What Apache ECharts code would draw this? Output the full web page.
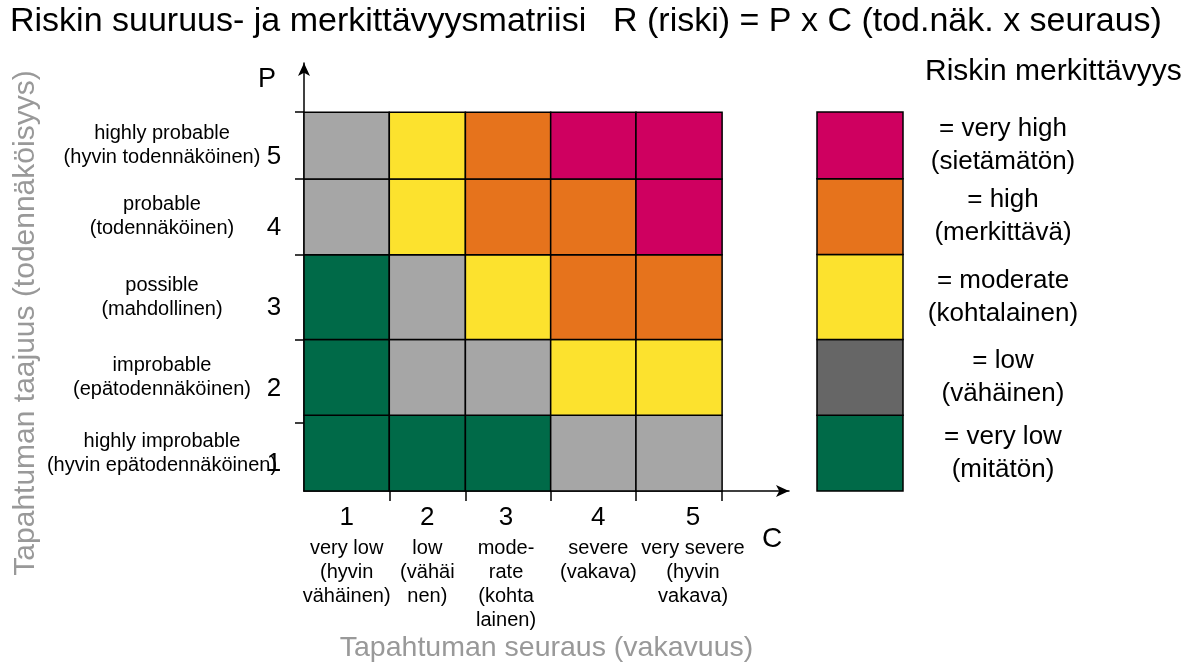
<!DOCTYPE html>
<html>
<head>
<meta charset="utf-8">
<title>Riskimatriisi</title>
<script src="https://cdn.jsdelivr.net/npm/echarts@6/dist/echarts.min.js"></script>
<style>
  html, body { margin: 0; padding: 0; background: #fff; }
  #chart { width: 1195px; height: 668px; }
</style>
</head>
<body>
<div id="chart"></div>
<script>
// solujen rajat (seuraus C ja todennäköisyys P), luettu kuvasta
const colEdges = [0, 1.02, 1.93, 2.95, 3.97, 5];
const rowEdges = [0, 1, 2, 3.12, 4.12, 5];
const yTickVals = [0.9, 2, 3.12, 4.12, 5];

const consequence = ['1', '2', '3', '4', '5'];
const consequenceDesc = [
  'very low\n(hyvin\nvähäinen)',
  'low\n(vähäi\nnen)',
  'mode-\nrate\n(kohta\nlainen)',
  'severe\n(vakava)',
  'very severe\n(hyvin\nvakava)'
];
const probability = ['1', '2', '3', '4', '5'];
const probabilityDesc = [
  'highly improbable\n(hyvin epätodennäköinen)',
  'improbable\n(epätodennäköinen)',
  'possible\n(mahdollinen)',
  'probable\n(todennäköinen)',
  'highly probable\n(hyvin todennäköinen)'
];

// riskitaso soluittain, rivi = P 1..5, sarake = C 1..5
// 0 = very low, 1 = low, 2 = moderate, 3 = high, 4 = very high
const riskLevels = [
  [0, 0, 0, 1, 1],
  [0, 1, 1, 2, 2],
  [0, 1, 2, 3, 3],
  [1, 2, 3, 3, 4],
  [1, 2, 3, 4, 4]
];
const levelNames = [
  '= very low\n(mitätön)',
  '= low\n(vähäinen)',
  '= moderate\n(kohtalainen)',
  '= high\n(merkittävä)',
  '= very high\n(sietämätön)'
];
const matrixColors = ['#006A48', '#A6A6A6', '#FCE22E', '#E6731C', '#CF0060'];
const legendColors = ['#006A48', '#666666', '#FCE22E', '#E6731C', '#CF0060'];

const colCenters = colEdges.slice(0, 5).map((v, i) => (v + colEdges[i + 1]) / 2);
const rowCenters = rowEdges.slice(0, 5).map((v, i) => (v + rowEdges[i + 1]) / 2);
const idxOf = (arr, v) => arr.findIndex(a => Math.abs(a - v) < 1e-6);

const FONT = 'Liberation Sans, Arial, sans-serif';

let cells = [];
riskLevels.forEach((row, r) => row.forEach((lvl, c) => cells.push([c, r, lvl])));
const legendCells = levelNames.map((n, i) => [0, i, i]);
const colLabels = consequence.map((c, i) => [colCenters[i], 0, i]);

function rectItem(xEdges, yEdges, colors) {
  return function (params, api) {
    const c = api.value(0), r = api.value(1), lvl = api.value(2);
    const p0 = api.coord([xEdges[c], yEdges[r]]);
    const p1 = api.coord([xEdges[c + 1], yEdges[r + 1]]);
    return {
      type: 'rect',
      shape: { x: p0[0], y: p1[1], width: p1[0] - p0[0], height: p0[1] - p1[1] },
      style: { fill: colors[lvl], stroke: '#000', lineWidth: 1.5 }
    };
  };
}

// x-akselin tekstit (numero + kuvaus) sarakkeen alle
// viimeisiä hieman oikealle ettei "severe" ja "very severe" osu yhteen
function colLabelItem(params, api) {
  const i = api.value(2);
  const nudge = [0, 0, -2, 5, 14][i];
  const p = api.coord([api.value(0), api.value(1)]);
  return {
    type: 'text',
    x: p[0] + nudge, y: p[1] + 9,
    style: {
      text: '{n|' + consequence[i] + '}\n{d|' + consequenceDesc[i] + '}',
      align: 'center', verticalAlign: 'top',
      rich: {
        n: { fontSize: 26, lineHeight: 36, fill: '#000', fontFamily: FONT, align: 'center' },
        d: { fontSize: 20, lineHeight: 24, fill: '#000', fontFamily: FONT, align: 'center' }
      }
    }
  };
}

const myChart = echarts.init(document.getElementById('chart'));

const option = {
  animation: false,
  textStyle: { fontFamily: FONT },
  title: [
    { text: 'Riskin suuruus- ja merkittävyysmatriisi', left: 5, top: 0,
      textStyle: { fontSize: 34, fontWeight: 'normal', color: '#000', fontFamily: FONT } },
    { text: 'R (riski) = P x C (tod.näk. x seuraus)', left: 608, top: 0,
      textStyle: { fontSize: 34, fontWeight: 'normal', color: '#000', fontFamily: FONT } },
    { text: 'Riskin merkittävyys', left: 920, top: 52,
      textStyle: { fontSize: 30, fontWeight: 'normal', color: '#000', fontFamily: FONT } },
    { text: 'P', left: 253, top: 61,
      textStyle: { fontSize: 27, fontWeight: 'normal', color: '#000', fontFamily: FONT } },
    { text: 'C', left: 757, top: 520,
      textStyle: { fontSize: 28, fontWeight: 'normal', color: '#000', fontFamily: FONT } }
  ],
  graphic: [{
    type: 'text',
    x: 26, y: 323,
    rotation: Math.PI / 2,
    style: {
      text: 'Tapahtuman taajuus (todennäköisyys)',
      fill: '#999999', fontSize: 30, fontFamily: FONT,
      align: 'center', verticalAlign: 'middle'
    }
  }],
  grid: [
    { left: 304, top: 63, width: 485, height: 428 },
    { left: 817, top: 112, width: 86, height: 379 }
  ],
  xAxis: [{
    type: 'value', gridIndex: 0, min: 0, max: 5.8,
    splitLine: { show: false },
    axisLine: { show: true, lineStyle: { color: '#000', width: 1.5 },
      symbol: ['none', 'arrow'], symbolSize: [9, 13] },
    axisTick: { show: true, customValues: colEdges.slice(1), length: 10,
      lineStyle: { color: '#000', width: 1.5 } },
    axisLabel: { show: false },
    name: 'Tapahtuman seuraus (vakavuus)',
    nameLocation: 'middle', nameGap: 143,
    nameTextStyle: { fontSize: 28.5, color: '#999999', fontFamily: FONT }
  }, {
    type: 'value', gridIndex: 1, min: 0, max: 1, show: false
  }],
  yAxis: [{
    type: 'value', gridIndex: 0, position: 'left', min: 0, max: 5.65,
    splitLine: { show: false },
    axisLine: { show: true, lineStyle: { color: '#000', width: 1.5 },
      symbol: ['none', 'arrow'], symbolSize: [9, 13] },
    axisTick: { show: true, customValues: yTickVals, length: 9,
      lineStyle: { color: '#000', width: 1.5 } },
    axisLabel: {
      customValues: rowCenters, margin: 30, color: '#000', fontSize: 26, align: 'center',
      verticalAlign: 'top', lineHeight: 22, hideOverlap: false,
      formatter: function (v) { return probability[idxOf(rowCenters, v)]; }
    }
  }, {
    type: 'value', gridIndex: 0, position: 'left', min: 0, max: 5.65,
    splitLine: { show: false }, axisLine: { show: false }, axisTick: { show: false },
    axisLabel: {
      customValues: rowCenters, margin: 142, color: '#000', fontSize: 20, lineHeight: 24,
      align: 'center', hideOverlap: false,
      formatter: function (v) { return probabilityDesc[idxOf(rowCenters, v)]; }
    }
  }, {
    type: 'value', gridIndex: 1, position: 'right', min: 0, max: 5,
    splitLine: { show: false }, axisLine: { show: false }, axisTick: { show: false },
    axisLabel: {
      customValues: rowCenters, margin: 100, color: '#000', fontSize: 26, lineHeight: 33,
      align: 'center', hideOverlap: false,
      formatter: function (v) { return levelNames[idxOf(rowCenters, v)]; }
    }
  }],
  series: [{
    type: 'custom', name: 'riskimatriisi',
    xAxisIndex: 0, yAxisIndex: 0,
    renderItem: rectItem(colEdges, rowEdges, matrixColors),
    encode: { x: 0, y: 1 },
    data: cells
  }, {
    type: 'custom', name: 'merkittävyys',
    xAxisIndex: 1, yAxisIndex: 2,
    renderItem: rectItem([0, 1], rowEdges, legendColors),
    encode: { x: 0, y: 1 },
    data: legendCells
  }, {
    type: 'custom', name: 'seuraus',
    xAxisIndex: 0, yAxisIndex: 0,
    renderItem: colLabelItem,
    encode: { x: 0, y: 1 },
    silent: true,
    data: colLabels
  }]
};

myChart.setOption(option);
window.addEventListener('resize', function () {
  setTimeout(function () { myChart.resize(); }, 100);
});
</script>
</body>
</html>
